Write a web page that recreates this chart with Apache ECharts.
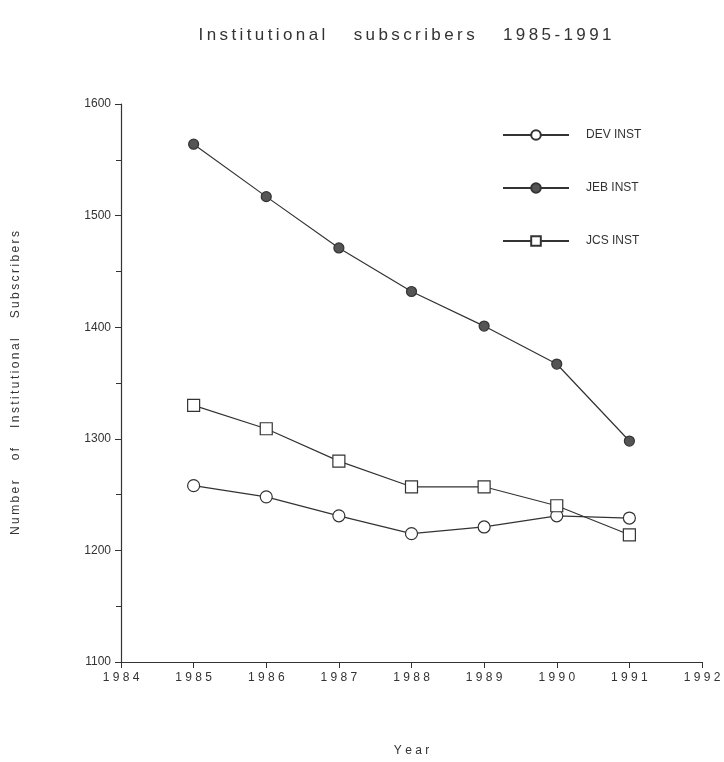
<!DOCTYPE html>
<html>
<head>
<meta charset="utf-8">
<script src="https://cdn.jsdelivr.net/npm/echarts@6/dist/echarts.min.js"></script>
<style>
  html, body { margin: 0; padding: 0; background: #fff; }
  #chart { width: 724px; height: 762px; }
</style>
</head>
<body>
<div id="chart"></div>
<script>
// years on the x axis
let years = [1985, 1986, 1987, 1988, 1989, 1990, 1991];

// values
let devInst = [1258, 1248, 1231, 1215, 1221, 1231, 1229];
let jebInst = [1564, 1517, 1471, 1432, 1401, 1367, 1298];
let jcsInst = [1330, 1309, 1280, 1257, 1257, 1240, 1214];

let seriesNames = ['DEV INST', 'JEB INST', 'JCS INST'];

let ink = '#333';
let font = 'Liberation Sans, Arial, sans-serif';

// the scanned chart has wide letter spacing, fake it with thin spaces
function spaced(str) {
  return str
    .split(' ')
    .map((w) => w.split('').join('\u2009'))
    .join('      ');
}

function pairs(vals) {
  return years.map((y, i) => [y, vals[i]]);
}

let myChart = echarts.init(document.getElementById('chart'));

function makeSeries(name, vals, symbol, fill, size) {
  return {
    name: name,
    type: 'line',
    data: pairs(vals),
    symbol: symbol,
    symbolSize: size,
    showAllSymbol: true,
    lineStyle: { color: ink, width: 1.2 },
    itemStyle: { color: fill, borderColor: ink, borderWidth: 1.2 },
    emphasis: { disabled: true },
    z: 3,
  };
}

let option = {
  animation: false,
  backgroundColor: '#fff',
  title: {
    text: spaced('Institutional subscribers 1985-1991'),
    left: 400,
    top: 22,
    textAlign: 'center',
    textStyle: { fontFamily: font, fontSize: 17, fontWeight: 'normal', color: ink },
  },
  legend: {
    orient: 'vertical',
    left: 497,
    top: 124,
    itemWidth: 66,
    itemHeight: 12,
    itemGap: 41,
    data: seriesNames,
    textStyle: { fontFamily: font, fontSize: 12, color: ink, padding: [0, 0, 0, 12] },
  },
  grid: { left: 121, right: 22, top: 104, bottom: 99 },
  xAxis: {
    type: 'value',
    min: 1984,
    max: 1992,
    interval: 1,
    name: 'Y e a r',
    nameLocation: 'middle',
    nameGap: 83,
    nameTextStyle: { fontFamily: font, fontSize: 12, color: ink },
    axisLine: { lineStyle: { color: ink, width: 1.2 } },
    axisTick: { show: true, length: 6, lineStyle: { color: ink } },
    splitLine: { show: false },
    axisLabel: {
      margin: 10,
      fontFamily: font,
      fontSize: 12,
      color: ink,
      formatter: (v) => String(v).split('').join(' '),
    },
  },
  yAxis: {
    type: 'value',
    min: 1100,
    max: 1600,
    interval: 100,
    name: spaced('Number of Institutional Subscribers'),
    nameLocation: 'middle',
    nameGap: 99,
    nameTextStyle: { fontFamily: font, fontSize: 12, color: ink },
    axisLine: { show: true, lineStyle: { color: ink, width: 1.2 } },
    axisTick: { show: true, length: 6, lineStyle: { color: ink } },
    minorTick: { show: true, splitNumber: 2, length: 5, lineStyle: { color: ink } },
    splitLine: { show: false },
    axisLabel: {
      margin: 10,
      fontFamily: font,
      fontSize: 12,
      color: ink,
      formatter: (v) => String(v),
    },
  },
  series: [
    makeSeries(seriesNames[0], devInst, 'circle', '#fff', 12),
    makeSeries(seriesNames[1], jebInst, 'circle', '#555', 10),
    makeSeries(seriesNames[2], jcsInst, 'rect', '#fff', 12),
  ],
};

myChart.setOption(option);
</script>
</body>
</html>
